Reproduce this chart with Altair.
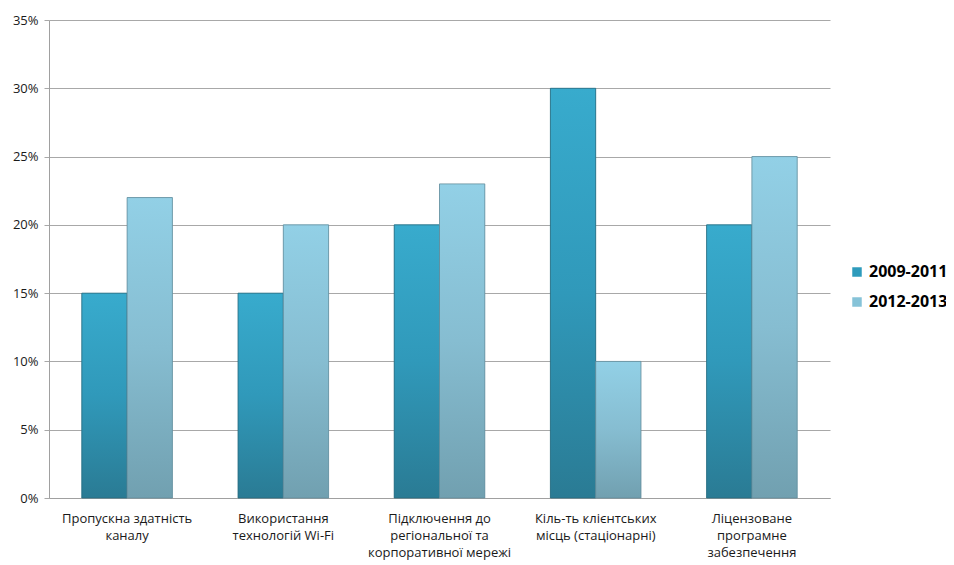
import altair as alt
import pandas as pd

categories = [
    "Пропускна здатність|каналу",
    "Використання|технологій Wi-Fi",
    "Підключення до|регіональної та|корпоративної мережі",
    "Кіль-ть клієнтських|місць (стаціонарні)",
    "Ліцензоване|програмне|забезпечення",
]
series = ["2009-2011", "2012-2013"]
values_2009 = [0.15, 0.15, 0.20, 0.30, 0.20]
values_2012 = [0.22, 0.20, 0.23, 0.10, 0.25]

rows = []
for c, a, b in zip(categories, values_2009, values_2012):
    rows.append({"cat": c, "series": series[0], "value": a})
    rows.append({"cat": c, "series": series[1], "value": b})
df = pd.DataFrame(rows)

grad_dark = alt.Gradient(
    gradient="linear", x1=0, y1=0, x2=0, y2=1,
    stops=[alt.GradientStop(color="#38ABCD", offset=0),
           alt.GradientStop(color="#3099BA", offset=0.5),
           alt.GradientStop(color="#2A7B94", offset=1)],
)
grad_light = alt.Gradient(
    gradient="linear", x1=0, y1=0, x2=0, y2=1,
    stops=[alt.GradientStop(color="#92D0E6", offset=0),
           alt.GradientStop(color="#86BDD1", offset=0.5),
           alt.GradientStop(color="#71A0B0", offset=1)],
)

x_enc = alt.X(
    "cat:N", sort=categories, title=None,
    scale=alt.Scale(paddingInner=0.42, paddingOuter=0.21),
    axis=alt.Axis(labelAngle=0, labelExpr="split(datum.label, '|')",
                  labelFontSize=13, labelLineHeight=17, labelPadding=14,
                  labelColor="#1a1a1a", labelFont="Open Sans",
                  ticks=False, domainColor="#A0A0A0", labelLimit=200),
)
y_enc = alt.Y(
    "value:Q", title=None,
    scale=alt.Scale(domain=[0, 0.35]),
    axis=alt.Axis(format=".0%", values=[0, 0.05, 0.1, 0.15, 0.2, 0.25, 0.3, 0.35],
                  labelFontSize=13, labelColor="#1a1a1a", labelFont="Open Sans",
                  gridColor="#A8A8A8", domainColor="#A0A0A0",
                  tickColor="#A8A8A8", tickSize=5, labelPadding=6),
)
xo = alt.XOffset("series:N", scale=alt.Scale(domain=series))

base = alt.Chart(df)

legend_bars = base.mark_bar().encode(
    x=x_enc, y=y_enc, xOffset=xo,
    color=alt.Color(
        "series:N", title=None,
        scale=alt.Scale(domain=series, range=["#2E9BBC", "#86C3D8"]),
        legend=alt.Legend(orient="none", legendX=800, legendY=244,
                          symbolType="square", symbolSize=90,
                          labelFontSize=16, labelFontWeight="bold",
                          labelColor="#000000", labelFont="Open Sans",
                          rowPadding=14),
    ),
)
dark = base.transform_filter(alt.datum.series == series[0]).mark_bar(
    color=grad_dark, stroke="#286A7E", strokeWidth=0.8
).encode(x=x_enc, y=y_enc, xOffset=xo)
light = base.transform_filter(alt.datum.series == series[1]).mark_bar(
    color=grad_light, stroke="#638D9C", strokeWidth=0.8
).encode(x=x_enc, y=y_enc, xOffset=xo)

chart = alt.layer(legend_bars, dark, light).properties(
    width=781, height=478,
    autosize=alt.AutoSizeParams(type="none"),
    padding={"left": 41, "top": 12, "right": 116, "bottom": 66},
).configure_view(stroke=None).configure_axis(gridWidth=1)

chart.save("out.html", embed_options={"renderer": "svg", "actions": False})
